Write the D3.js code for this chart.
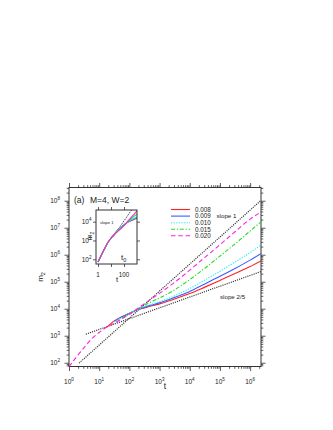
<!DOCTYPE html>
<html><head><meta charset="utf-8">
<script src="https://cdn.jsdelivr.net/npm/d3@7"></script>
<style>body{margin:0;background:#fff} text{font-family:"Liberation Sans",Arial,sans-serif;fill:#222}</style>
</head><body><svg id="c" width="333" height="430"></svg>
<script>
// ---- data ----
const tValues = [1, 1.78, 3.16, 5.62, 10, 17.8, 31.6, 56.2, 100, 178, 316, 562, 1000, 3162, 1e4, 3.16e4, 1e5, 3.16e5, 1e6, 2.29e6];
const seriesNames = ["0.008", "0.009", "0.010", "0.015", "0.020"];
const m2_008 = [71, 166, 363, 759, 1318, 2089, 3548, 5012, 6761, 8913, 10715, 12882, 15136, 22909, 36308, 63096, 1.12e5, 2.00e5, 3.63e5, 5.89e5];
const m2_009 = [71, 166, 363, 759, 1318, 2089, 3388, 4898, 6607, 9120, 11482, 13804, 16596, 26303, 43652, 83176, 1.58e5, 3.09e5, 6.31e5, 1.10e6];
const m2_010 = [71, 166, 363, 759, 1318, 2089, 3311, 4786, 6607, 9333, 12023, 14791, 18197, 30200, 56234, 1.15e5, 2.45e5, 5.37e5, 1.20e6, 2.29e6];
const m2_015 = [71, 166, 363, 759, 1318, 2089, 3090, 4467, 6310, 9550, 13490, 18621, 25119, 50119, 1.20e5, 3.16e5, 8.91e5, 2.51e6, 7.59e6, 1.66e7];
const m2_020 = [71, 166, 363, 759, 1318, 2089, 2951, 4169, 6166, 9772, 15488, 23988, 37154, 95499, 2.69e5, 7.94e5, 2.34e6, 7.08e6, 2.09e7, 3.80e7];
const mainStartT = [17.8, 31.6, 31.6, 56.2, 1];   // first t shown in the main panel
const insetMaxT = 1000;
// reference power laws (endpoints)
const slopeOneT = [2.15, 2.29e6], slopeOneM = [97, 1.03e8];
const slopeTwoFifthsT = [3.6, 2.29e6], slopeTwoFifthsM = [1135, 2.38e5];
const insetSlopeT = [15, 380], insetSlopeM = [1650, 41800];
const xMajor = [1, 10, 100, 1e3, 1e4, 1e5, 1e6];
const yMajor = [1e2, 1e3, 1e4, 1e5, 1e6, 1e7, 1e8];
const insetXMajor = [1, 10, 100], insetXLabels = ["1", "", "100"];
const insetYMajor = [1e2, 1e3, 1e4];

// ---- style ----
const colors = ["#ff2020", "#3a5cff", "#22eeff", "#22dd22", "#ff22dd"];
const dashes = [null, null, "1.3,1.3", "4,1.8,1.2,1.8", "4.5,2.8"];

const svg = d3.select("#c");
const L = 69, R = 261, T = 187.5, B = 366.5;
const x = d3.scaleLog().domain([1, 10 ** 6.36]).range([L, R]);
const y = d3.scaleLog().domain([10 ** 1.86, 10 ** 8.49]).range([B, T]);
const allSeries = [m2_008, m2_009, m2_010, m2_015, m2_020];

svg.append("defs").append("clipPath").attr("id", "clipMain")
  .append("rect").attr("x", L).attr("y", T).attr("width", R - L).attr("height", B - T);

function minors(lo, hi) {
  const out = [];
  for (let e = Math.floor(Math.log10(lo)); e <= Math.ceil(Math.log10(hi)); e++)
    for (let k = 2; k <= 9; k++) { const v = k * 10 ** e; if (v >= lo && v <= hi) out.push(v); }
  return out;
}
function drawAxes(g, xs, ys, xmaj, ymaj, l, r, t, b, majLen, minLen, withMinor) {
  const xd = xs.domain(), yd = ys.domain();
  const mk = (axisFn, sc, vals, len, tr) => {
    const a = g.append("g").attr("transform", tr)
      .call(axisFn(sc).tickValues(vals).tickSize(len).tickFormat(""));
    a.select(".domain").remove();
    a.selectAll("line").attr("stroke", "#333").attr("stroke-width", 0.8);
  };
  const xmin = withMinor ? minors(xd[0], xd[1]) : [];
  const ymin = withMinor ? minors(yd[0], yd[1]) : [];
  mk(d3.axisBottom, xs, xmaj, majLen, `translate(0,${b})`);
  mk(d3.axisTop, xs, xmaj, majLen, `translate(0,${t})`);
  mk(d3.axisLeft, ys, ymaj, majLen, `translate(${l},0)`);
  mk(d3.axisRight, ys, ymaj, majLen, `translate(${r},0)`);
  if (withMinor) {
    mk(d3.axisBottom, xs, xmin, minLen, `translate(0,${b})`);
    mk(d3.axisTop, xs, xmin, minLen, `translate(0,${t})`);
    mk(d3.axisLeft, ys, ymin, minLen, `translate(${l},0)`);
    mk(d3.axisRight, ys, ymin, minLen, `translate(${r},0)`);
  }
  g.append("rect").attr("x", l).attr("y", t).attr("width", r - l).attr("height", b - t)
    .attr("fill", "none").attr("stroke", "#333").attr("stroke-width", 1);
}
function powLabel(g, xp, yp, exp, anchor, fs) {
  const tx = g.append("text").attr("x", xp).attr("y", yp).attr("text-anchor", anchor)
    .attr("font-size", fs).attr("fill", "#444");
  tx.append("tspan").text("10");
  tx.append("tspan").attr("dy", -fs * 0.45).attr("font-size", fs * 0.7).text(exp);
}

// ---- main panel ----
const main = svg.append("g");
drawAxes(main, x, y, xMajor, yMajor, L, R, T, B, 4.5, 2.3, true);
xMajor.forEach(v => powLabel(main, x(v), 384, Math.round(Math.log10(v)), "middle", 6.5));
yMajor.forEach(v => powLabel(main, 60, y(v) + 2.3, Math.round(Math.log10(v)), "end", 6.5));

const line = d3.line().x(d => x(d[0])).y(d => y(d[1])).curve(d3.curveMonotoneX);
const plot = main.append("g").attr("clip-path", "url(#clipMain)");
const refStyle = p => p.attr("fill", "none").attr("stroke", "#333").attr("stroke-width", 1.2)
  .attr("stroke-dasharray", "1.1,1.1");
plot.append("path").attr("d", d3.line().x(d => x(d[0])).y(d => y(d[1]))(d3.zip(slopeOneT, slopeOneM))).call(refStyle);
plot.append("path").attr("d", d3.line().x(d => x(d[0])).y(d => y(d[1]))(d3.zip(slopeTwoFifthsT, slopeTwoFifthsM))).call(refStyle);

allSeries.forEach((s, i) => {
  const pts = d3.zip(tValues, s).filter(d => d[0] >= mainStartT[i]);
  plot.append("path").attr("d", line(pts)).attr("fill", "none")
    .attr("stroke", colors[i]).attr("stroke-width", 1.1)
    .attr("stroke-dasharray", dashes[i]);
});

// legend
const legY = [209.5, 216.1, 222.7, 229.3, 235.8];
seriesNames.forEach((n, i) => {
  main.append("line").attr("x1", 171).attr("x2", 190).attr("y1", legY[i]).attr("y2", legY[i])
    .attr("stroke", colors[i]).attr("stroke-width", 1.1).attr("stroke-dasharray", dashes[i]);
  main.append("text").attr("x", 195).attr("y", legY[i] + 2.2).attr("font-size", 6.3).text(n);
});
main.append("text").attr("x", 216.5).attr("y", 217.8).attr("font-size", 6.2).text("slope 1");
main.append("text").attr("x", 220).attr("y", 298.8).attr("font-size", 6.2).text("slope 2/5");
main.append("text").attr("x", 74).attr("y", 203).attr("font-size", 8.5).text("(a)");
main.append("text").attr("x", 90).attr("y", 203).attr("font-size", 8.5).text("M=4, W=2");
main.append("text").attr("x", 165).attr("y", 389).attr("text-anchor", "middle").attr("font-size", 8.5).text("t");
const ml = main.append("text").attr("transform", "translate(43,277) rotate(-90)")
  .attr("text-anchor", "middle").attr("font-size", 8);
ml.append("tspan").text("m");
ml.append("tspan").attr("dy", 2).attr("font-size", 5.5).text("2");

// ---- inset ----
const iL = 96, iR = 137, iT = 210, iB = 264;
const ix = d3.scaleLog().domain([0.7, 1000]).range([iL, iR]);
const iy = d3.scaleLog().domain([10 ** 1.75, 10 ** 4.62]).range([iB, iT]);
const ins = svg.append("g");
ins.append("rect").attr("x", iL).attr("y", iT).attr("width", iR - iL).attr("height", iB - iT).attr("fill", "#fff");
svg.select("defs").append("clipPath").attr("id", "clipIns")
  .append("rect").attr("x", iL).attr("y", iT).attr("width", iR - iL).attr("height", iB - iT);
const iplot = ins.append("g").attr("clip-path", "url(#clipIns)");
const iline = d3.line().x(d => ix(d[0])).y(d => iy(d[1])).curve(d3.curveMonotoneX);
iplot.append("path").attr("d", d3.line().x(d => ix(d[0])).y(d => iy(d[1]))(d3.zip(insetSlopeT, insetSlopeM)))
  .attr("fill", "none").attr("stroke", "#333").attr("stroke-width", 1).attr("stroke-dasharray", "1.2,1");
allSeries.forEach((s, i) => {
  const pts = d3.zip(tValues, s).filter(d => d[0] <= insetMaxT);
  iplot.append("path").attr("d", iline(pts)).attr("fill", "none")
    .attr("stroke", colors[i]).attr("stroke-width", 1.1);
});
drawAxes(ins, ix, iy, insetXMajor, insetYMajor, iL, iR, iT, iB, 3, 1.5, false);
insetXMajor.forEach((v, i) => ins.append("text").attr("x", ix(v)).attr("y", 276.5)
  .attr("text-anchor", "middle").attr("font-size", 6.3).attr("fill", "#444").text(insetXLabels[i]));
insetYMajor.forEach(v => powLabel(ins, 91.5, iy(v) + 2.3, Math.round(Math.log10(v)), "end", 6.5));
ins.append("text").attr("x", 117).attr("y", 282).attr("text-anchor", "middle").attr("font-size", 7.5).text("t");
const iml = ins.append("text").attr("transform", "translate(92,236) rotate(-90)")
  .attr("text-anchor", "middle").attr("font-size", 7);
iml.append("tspan").text("m");
iml.append("tspan").attr("dy", 1.8).attr("font-size", 5).text("2");
ins.append("text").attr("x", 100).attr("y", 223.5).attr("font-size", 4.2).text("slope 1");
const t0 = ins.append("text").attr("x", 121).attr("y", 260).attr("font-size", 8);
t0.append("tspan").text("t");
t0.append("tspan").attr("dy", 2).attr("font-size", 5.5).text("0");
</script></body></html>
